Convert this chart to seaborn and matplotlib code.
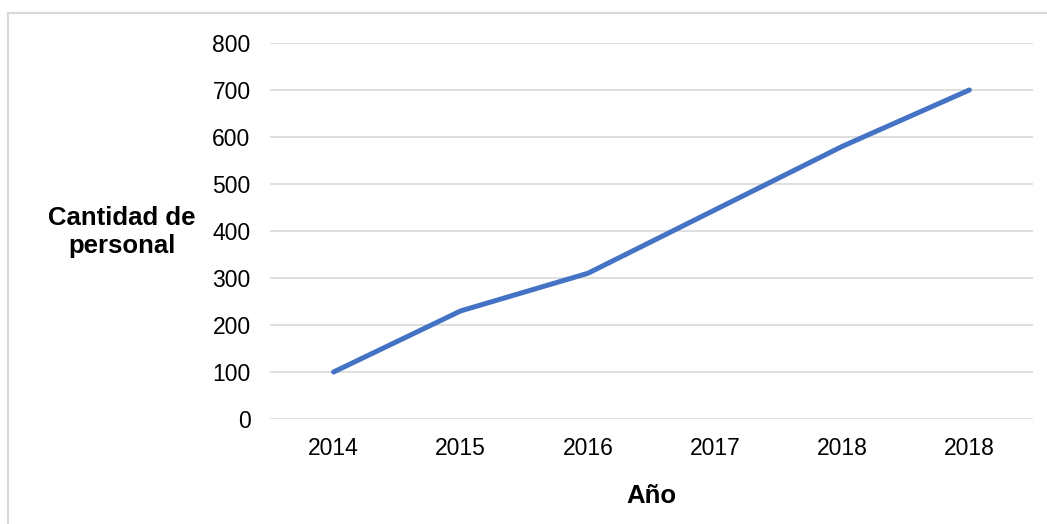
import numpy as np
import pandas as pd
import matplotlib
matplotlib.use("Agg")
import matplotlib.pyplot as plt
from matplotlib.patches import Rectangle
import seaborn as sns

# Staff headcount per year
anios = ["2014", "2015", "2016", "2017", "2018", "2018"]
personal = [100, 230, 310, 445, 580, 700]
y_ticks = [0, 100, 200, 300, 400, 500, 600, 700, 800]

sns.set_theme(style="white")
plt.rcParams["font.family"] = ["Liberation Sans", "DejaVu Sans"]

df = pd.DataFrame({"pos": np.arange(len(anios)), "personal": personal})

fig = plt.figure(figsize=(10.47, 5.24), dpi=100)
ax = fig.add_axes([0.2579, 0.2004, 0.7287, 0.7176])

sns.lineplot(data=df, x="pos", y="personal", ax=ax, color="#4472C4",
             linewidth=3.6, solid_capstyle="round", solid_joinstyle="round",
             zorder=3)

ax.set_xlim(-0.5, len(anios) - 0.5)
ax.set_ylim(0, 800)
ax.set_xticks(np.arange(len(anios)))
ax.set_xticklabels(anios)
ax.set_yticks(y_ticks)
ax.set_yticklabels([str(v) for v in y_ticks])
ax.tick_params(axis="both", length=0, labelsize=16.5, colors="black")
ax.tick_params(axis="y", pad=14)
ax.tick_params(axis="x", pad=13)

ax.grid(axis="y", color="#D9D9D9", linewidth=1.2)
ax.grid(axis="x", visible=False)
for s in ax.spines.values():
    s.set_visible(False)

ax.set_xlabel("Año", fontsize=18.5, fontweight="bold", color="black")
ax.xaxis.set_label_coords(0.5, -0.172)
ax.set_ylabel("Cantidad de\npersonal", fontsize=18.5, fontweight="bold",
              color="black", rotation=0, ha="center", va="center",
              linespacing=1.2)
ax.yaxis.set_label_coords(-0.194, 0.497)

# Outer chart frame
fig.patches.append(Rectangle((8 / 1047, -0.2), 1.2, (524 - 13) / 524 + 0.2,
                             transform=fig.transFigure, fill=False,
                             edgecolor="#D9D9D9", linewidth=1.5))

fig.savefig("out.png", dpi=100, facecolor="white")
